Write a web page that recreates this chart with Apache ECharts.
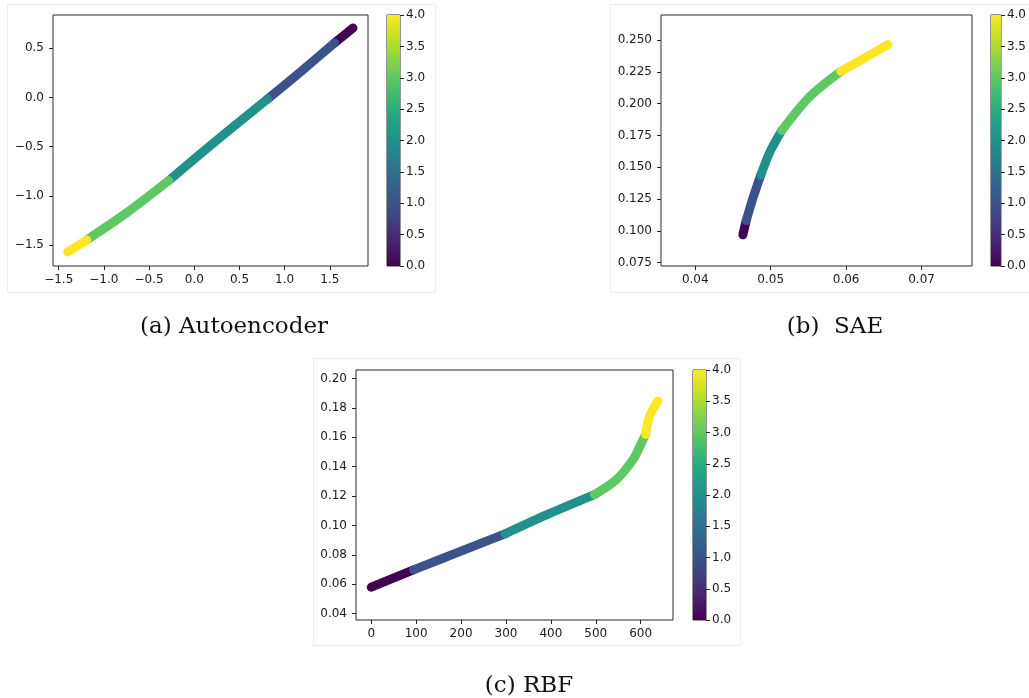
<!DOCTYPE html>
<html>
<head>
<meta charset="utf-8">
<script src="https://cdn.jsdelivr.net/npm/echarts@6/dist/echarts.min.js"></script>
<style>
  html, body { margin: 0; padding: 0; background: #fff; }
  #chart { width: 1029px; height: 698px; }
</style>
</head>
<body>
<div id="chart"></div>
<script>
// class colours (viridis at 0,1,2,3,4)
const classColors = ['#440154', '#3b528b', '#21918c', '#5ec962', '#fde725'];
const viridis = ['#440154', '#482475', '#414487', '#355f8d', '#2a788e', '#21918c',
  '#22a884', '#44bf70', '#7ad151', '#bddf26', '#fde725'];

// (a) Autoencoder, points of class 0..4
const aeClass = [
  [[1.551, 0.554], [1.756, 0.707]],
  [[0.811, -0.016], [1.181, 0.265], [1.551, 0.554]],
  [[-0.282, -0.845], [0.256, -0.43], [0.811, -0.016]],
  [[-1.189, -1.449], [-0.744, -1.17], [-0.282, -0.845]],
  [[-1.40, -1.572], [-1.189, -1.449]]
];
const aeXTicks = [-1.5, -1.0, -0.5, 0.0, 0.5, 1.0, 1.5];
const aeYTicks = [-1.5, -1.0, -0.5, 0.0, 0.5];

// (b) SAE
const saeClass = [
  [[0.04631, 0.0968], [0.04675, 0.1079]],
  [[0.04675, 0.1079], [0.04771, 0.1268], [0.04869, 0.1439]],
  [[0.04869, 0.1439], [0.04992, 0.1623], [0.05147, 0.1789]],
  [[0.05147, 0.1789], [0.05521, 0.2057], [0.05931, 0.2254]],
  [[0.05931, 0.2254], [0.06249, 0.2360], [0.06557, 0.2465]]
];
const saeXTicks = [0.04, 0.05, 0.06, 0.07];
const saeYTicks = [0.075, 0.100, 0.125, 0.150, 0.175, 0.200, 0.225, 0.250];

// (c) RBF
const rbfClass = [
  [[0, 0.058], [94, 0.0698]],
  [[94, 0.0698], [200, 0.0825], [298, 0.0943]],
  [[298, 0.0943], [400, 0.1085], [497, 0.121]],
  [[497, 0.121], [546, 0.1312], [583, 0.1448], [602, 0.1562], [611, 0.1619]],
  [[611, 0.1619], [620, 0.1744], [638, 0.1846]]
];
const rbfXTicks = [0, 100, 200, 300, 400, 500, 600];
const rbfYTicks = [0.04, 0.06, 0.08, 0.10, 0.12, 0.14, 0.16, 0.18, 0.20];

const captions = ['(a) Autoencoder', '(b)  SAE', '(c) RBF'];

const chart = echarts.init(document.getElementById('chart'));
const txt = '#1a1a1a';
const fmt = d => v => v.toFixed(d).replace('-', '\u2212');

function valueAxis(idx, min, max, ticks, dec) {
  return {
    type: 'value', gridIndex: idx, min: min, max: max, scale: true,
    axisLine: { show: false, onZero: false },
    axisTick: { show: true, customValues: ticks, length: 4, lineStyle: { color: '#222' } },
    axisLabel: { customValues: ticks, formatter: fmt(dec), color: txt,
      fontFamily: 'DejaVu Sans', fontSize: 12, margin: 9 },
    splitLine: { show: false }
  };
}

const grids = [
  { left: 53, top: 15, width: 315, height: 251 },
  { left: 387, top: 15, width: 13, height: 251 },
  { left: 661, top: 15, width: 311, height: 251 },
  { left: 991, top: 15, width: 12, height: 251 },
  { left: 356, top: 370, width: 317, height: 250 },
  { left: 693, top: 370, width: 13, height: 250 }
].map(g => Object.assign({ show: true, borderColor: '#2a2a2a', borderWidth: 1,
  backgroundColor: 'transparent' }, g));

const xAxes = [], yAxes = [], series = [];
const panels = [
  { data: aeClass, xr: [-1.563, 1.922], yr: [-1.714, 0.839], xt: aeXTicks, yt: aeYTicks, xd: 1, yd: 1 },
  { data: saeClass, xr: [0.03546, 0.07669], yr: [0.0723, 0.2697], xt: saeXTicks, yt: saeYTicks, xd: 2, yd: 3 },
  { data: rbfClass, xr: [-34, 672], yr: [0.0357, 0.2057], xt: rbfXTicks, yt: rbfYTicks, xd: 0, yd: 2 }
];

panels.forEach((p, i) => {
  const g = i * 2, c = i * 2 + 1;
  const xa = valueAxis(g, p.xr[0], p.xr[1], p.xt, p.xd);
  xa.axisLabel.margin = 8;
  xAxes.push(xa);
  yAxes.push(valueAxis(g, p.yr[0], p.yr[1], p.yt, p.yd));
  p.data.forEach((pts, k) => {
    series.push({
      type: 'line', xAxisIndex: g, yAxisIndex: g, data: pts,
      showSymbol: false, smooth: 0.3, silent: true,
      lineStyle: { width: 9, color: classColors[k], cap: 'round', join: 'round' }
    });
  });
  // colorbar
  xAxes.push({ type: 'category', gridIndex: c, data: ['c'], show: false });
  yAxes.push({
    type: 'value', gridIndex: c, min: 0, max: 4, interval: 0.5, position: 'right',
    axisLine: { show: false },
    axisTick: { show: true, length: 4, lineStyle: { color: '#222' } },
    axisLabel: { formatter: fmt(1), color: txt, fontFamily: 'DejaVu Sans', fontSize: 12, margin: 6 },
    splitLine: { show: false }
  });
  series.push({
    type: 'bar', xAxisIndex: c, yAxisIndex: c, data: [4], barWidth: '100%', silent: true,
    itemStyle: {
      color: new echarts.graphic.LinearGradient(0, 1, 0, 0,
        viridis.map((col, j) => ({ offset: j / (viridis.length - 1), color: col })))
    }
  });
});

const frame = (x, y, w, h) => ({ type: 'rect', silent: true, z: -1,
  shape: { x: x, y: y, width: w, height: h },
  style: { fill: 'none', stroke: '#ececec', lineWidth: 1 } });
const caption = (s, x, y) => ({ type: 'text', x: x, y: y, silent: true,
  style: { text: s, fill: '#111', font: '23px "DejaVu Serif"', align: 'center', verticalAlign: 'middle' } });

chart.setOption({
  animation: false,
  backgroundColor: '#fff',
  grid: grids,
  xAxis: xAxes,
  yAxis: yAxes,
  series: series,
  graphic: [
    frame(7.5, 4.5, 428, 288),
    frame(610.5, 4.5, 430, 288),
    frame(313.5, 358.5, 427, 287),
    caption(captions[0], 234, 327),
    caption(captions[1], 835, 327),
    caption(captions[2], 529, 686)
  ]
});
</script>
</body>
</html>
